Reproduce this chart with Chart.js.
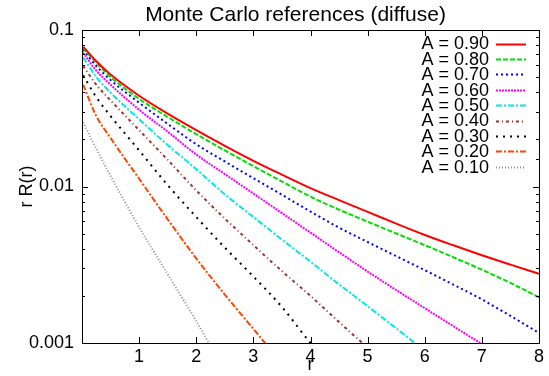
<!DOCTYPE html>
<html>
<head>
<meta charset="utf-8">
<script src="https://cdn.jsdelivr.net/npm/chart.js@4.4.1/dist/chart.umd.min.js"></script>
<style>
  html, body { margin: 0; padding: 0; background: #fff; }
  canvas { display: block; }
</style>
</head>
<body>
<canvas id="Chart" width="549" height="376"></canvas>
<script>
// radius samples (shared by all curves)
const rValues = [0.02, 0.25, 0.5, 1, 1.5, 2, 2.5, 3, 3.5, 4, 4.5, 5, 5.5, 6, 6.5, 7, 7.5, 8];

// r R(r) for each albedo
const refA90 = [0.0782, 0.0631, 0.0519, 0.0380, 0.0292, 0.0229, 0.0182, 0.0146, 0.0119, 0.00977, 0.00818, 0.00689, 0.00579, 0.00490, 0.00421, 0.00364, 0.00317, 0.00277];
const refA80 = [0.0767, 0.0617, 0.0501, 0.0363, 0.0278, 0.0216, 0.0170, 0.0135, 0.01076, 0.00861, 0.00711, 0.00596, 0.00501, 0.00422, 0.00353, 0.00294, 0.00242, 0.00196];
const refA70 = [0.0750, 0.0589, 0.0479, 0.0343, 0.0251, 0.01862, 0.01445, 0.01130, 0.00885, 0.00692, 0.00546, 0.00442, 0.00359, 0.00292, 0.00236, 0.00190, 0.00149, 0.00116];
const refA60 = [0.0716, 0.0550, 0.0447, 0.0309, 0.0224, 0.0160, 0.0120, 0.00902, 0.00676, 0.00507, 0.00380, 0.00286, 0.00218, 0.00167, 0.00128, 0.000984, 0.000755];
const refA50 = [0.0668, 0.0501, 0.0398, 0.0269, 0.0184, 0.0129, 0.00891, 0.00638, 0.00458, 0.00331, 0.00237, 0.00172, 0.00124, 0.000891];
const refA40 = [0.0589, 0.0447, 0.0355, 0.0229, 0.0148, 0.00944, 0.00624, 0.00422, 0.00288, 0.00200, 0.00136, 0.000933];
const refA30 = [0.0513, 0.0372, 0.0282, 0.0170, 0.0102, 0.00638, 0.00407, 0.00266, 0.00170, 0.00100, 0.000631];
const refA20 = [0.0447, 0.0282, 0.0204, 0.0112, 0.00617, 0.00347, 0.00204, 0.00123, 0.000741];
const refA10 = [0.0257, 0.0174, 0.0117, 0.00550, 0.00275, 0.00138, 0.000661];

const seriesLabels = ['A = 0.90', 'A = 0.80', 'A = 0.70', 'A = 0.60', 'A = 0.50', 'A = 0.40', 'A = 0.30', 'A = 0.20', 'A = 0.10'];
const seriesValues = [refA90, refA80, refA70, refA60, refA50, refA40, refA30, refA20, refA10];
const seriesColors = ['#ff0000', '#00e000', '#0000ff', '#ff00ff', '#00e8e8', '#a03030', '#000000', '#ff4500', '#909090'];
const seriesDash = [[], [5, 2], [2, 3], [2, 1], [6, 2, 2, 2], [3, 3, 1, 3], [2, 5], [6, 2, 2, 2], [1, 2]];

const yTicks = [0.001, 0.01, 0.1];
const chartTitle = 'Monte Carlo references (diffuse)';

function toPoints(vals) {
  return vals.map(function (v, i) { return { x: rValues[i], y: v }; });
}

const datasets = seriesValues.map(function (vals, i) {
  return {
    label: seriesLabels[i],
    data: toPoints(vals),
    borderColor: seriesColors[i],
    backgroundColor: seriesColors[i],
    borderDash: seriesDash[i],
    borderWidth: 2,
    pointRadius: 0,
    fill: false,
    cubicInterpolationMode: 'monotone',
    clip: 0
  };
});

// gnuplot-like frame with inward ticks on all four sides
const frameTicks = {
  id: 'frameTicks',
  afterDatasetsDraw: function (chart) {
    const ctx = chart.ctx, a = chart.chartArea;
    const xs = chart.scales.x, ys = chart.scales.y;
    ctx.save();
    ctx.strokeStyle = '#000';
    ctx.lineWidth = 1;
    ctx.setLineDash([]);
    ctx.beginPath();
    xs.ticks.forEach(function (t) {
      const px = Math.round(xs.getPixelForValue(t.value)) + 0.5;
      ctx.moveTo(px, a.bottom); ctx.lineTo(px, a.bottom - 6);
      ctx.moveTo(px, a.top); ctx.lineTo(px, a.top + 6);
    });
    ys.ticks.forEach(function (t) {
      const lg = Math.log10(t.value);
      const major = Math.abs(lg - Math.round(lg)) < 1e-6;
      const len = major ? 6 : 3;
      const py = Math.round(ys.getPixelForValue(t.value)) + 0.5;
      ctx.moveTo(a.left, py); ctx.lineTo(a.left + len, py);
      ctx.moveTo(a.right, py); ctx.lineTo(a.right - len, py);
    });
    ctx.stroke();
    ctx.strokeRect(Math.round(a.left) + 0.5, Math.round(a.top) + 0.5, Math.round(a.right - a.left), Math.round(a.bottom - a.top));
    ctx.restore();
  }
};

// title plus key in the top right corner (text first, then the line sample)
const keyBox = {
  id: 'keyBox',
  afterDraw: function (chart) {
    const ctx = chart.ctx, a = chart.chartArea;
    ctx.save();
    ctx.fillStyle = '#000';
    ctx.font = '21px "Liberation Sans", Arial, sans-serif';
    ctx.textAlign = 'center';
    ctx.textBaseline = 'middle';
    ctx.fillText(chartTitle, (a.left + a.right) / 2 - 15, 15);

    ctx.font = '18px "Liberation Sans", Arial, sans-serif';
    ctx.textAlign = 'right';
    chart.data.datasets.forEach(function (ds, i) {
      const y = a.top + 13.5 + i * 15.4;
      ctx.fillStyle = '#000';
      ctx.fillText(ds.label, a.right - 50, y + 1);
      ctx.strokeStyle = ds.borderColor;
      ctx.lineWidth = ds.borderWidth;
      ctx.setLineDash(ds.borderDash);
      ctx.beginPath();
      ctx.moveTo(a.right - 43, Math.round(y) + 0.5);
      ctx.lineTo(a.right - 13, Math.round(y) + 0.5);
      ctx.stroke();
    });
    ctx.restore();
  }
};

Chart.defaults.font.family = '"Liberation Sans", Arial, sans-serif';
Chart.defaults.color = '#000';

const ctx = document.getElementById('Chart').getContext('2d');
const myChart = new Chart(ctx, {
  type: 'line',
  data: { datasets: datasets },
  options: {
    responsive: false,
    animation: false,
    layout: { padding: { left: 0, right: 10, top: 30, bottom: 0 } },
    plugins: {
      legend: { display: false },
      tooltip: { enabled: false },
      title: { display: false }
    },
    scales: {
      x: {
        type: 'linear',
        min: 0,
        max: 8,
        grid: { display: false, drawTicks: false },
        border: { display: false },
        ticks: {
          stepSize: 1,
          padding: 3,
          font: { size: 18 },
          callback: function (v) { return v === 0 ? '' : String(v); }
        },
        title: { display: true, text: 'r', font: { size: 18 }, padding: { top: 0, bottom: 0 } },
        afterFit: function (s) { s.height = 33; }
      },
      y: {
        type: 'logarithmic',
        min: 0.001,
        max: 0.1,
        grid: { display: false, drawTicks: false },
        border: { display: false },
        ticks: {
          autoSkip: false,
          padding: 8,
          font: { size: 18 },
          callback: function (v) {
            return yTicks.some(function (t) { return Math.abs(t - v) < t * 1e-6; }) ? String(v) : '';
          }
        },
        title: { display: true, text: 'r R(r)', font: { size: 18 }, padding: { top: 16, bottom: 0 } },
        afterFit: function (s) { s.width = 82; }
      }
    }
  },
  plugins: [frameTicks, keyBox]
});
</script>
</body>
</html>
